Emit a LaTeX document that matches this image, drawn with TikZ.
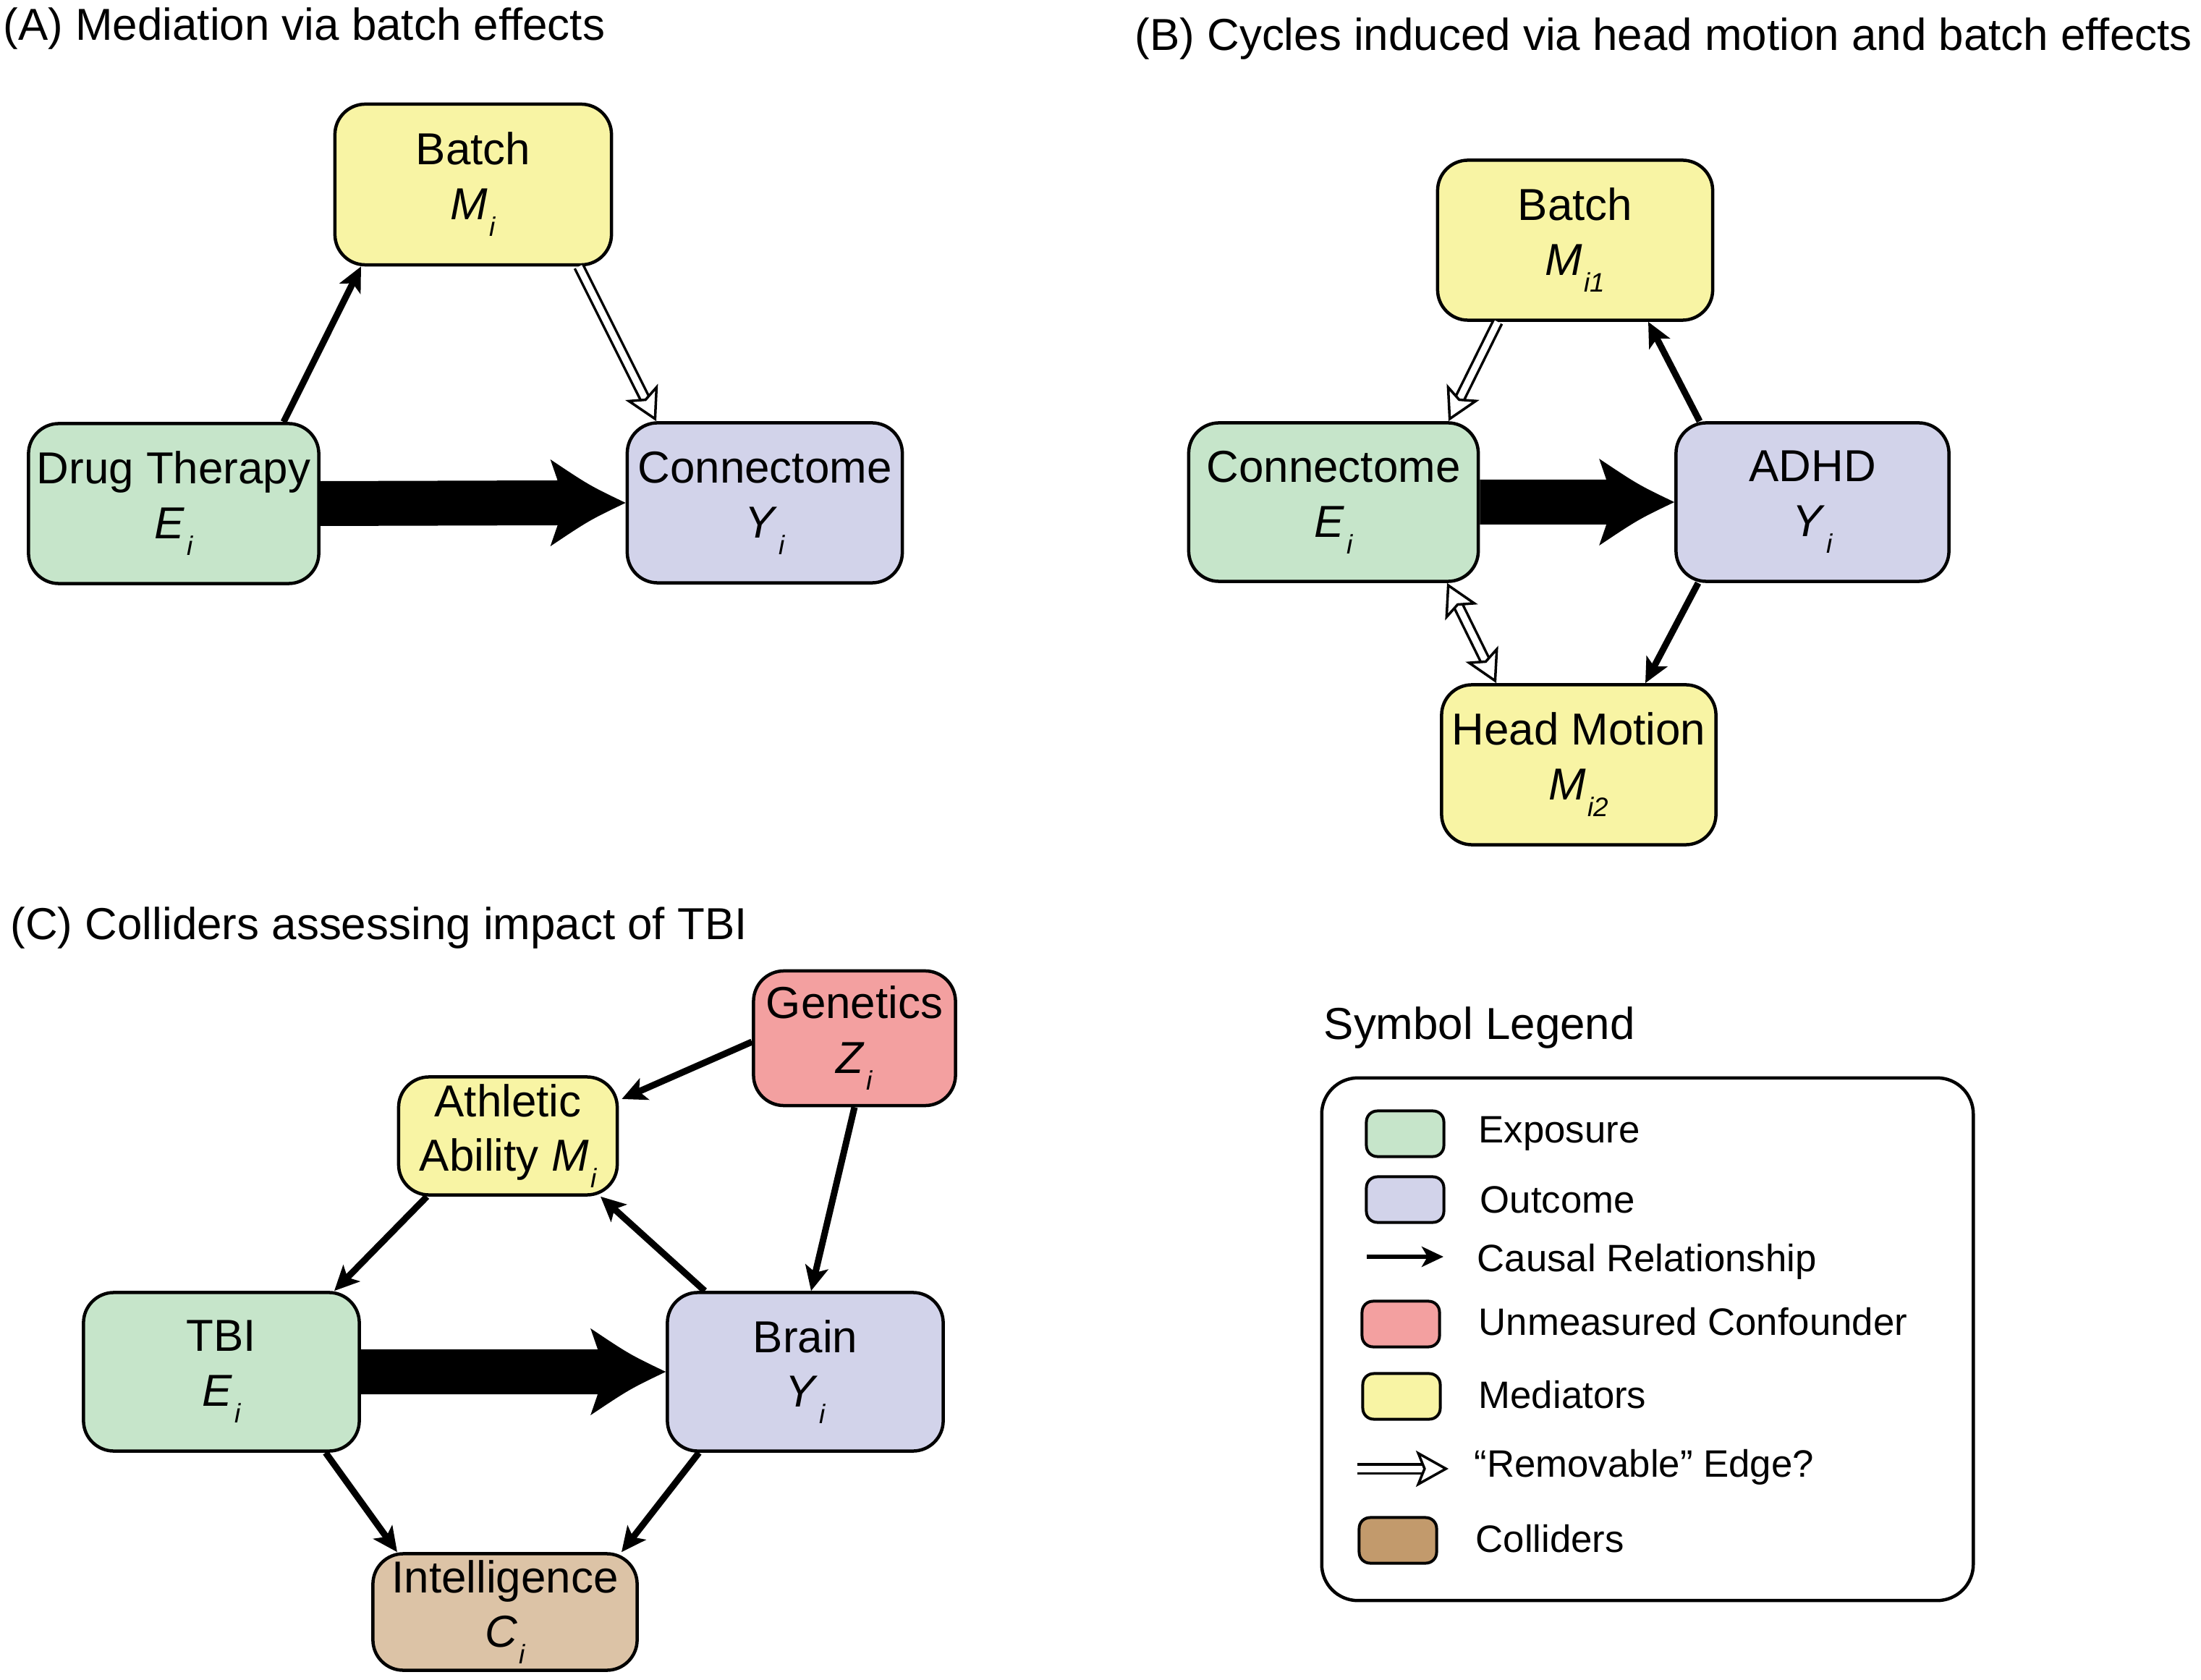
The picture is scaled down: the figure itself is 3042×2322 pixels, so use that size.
\documentclass[tikz,border=0pt]{standalone}
\usepackage{fontspec}
\setmainfont{Liberation Sans}
\usetikzlibrary{arrows.meta,calc}
\definecolor{expo}{RGB}{198,229,202}
\definecolor{outc}{RGB}{210,211,234}
\definecolor{medi}{RGB}{248,244,164}
\definecolor{conf}{RGB}{243,160,160}
\definecolor{coll}{RGB}{194,154,108}
\definecolor{colllight}{RGB}{220,195,166}
\newcommand{\mysub}[1]{\kern0.04em\raisebox{-0.37em}{\fontsize{10.5pt}{10.5pt}\selectfont\itshape #1}}
\newcommand{\myvar}[2]{\textit{#1}\mysub{#2}}
% thick causal arrow from anchor #1 to anchor #2 (horizontal), concave head
\newcommand{\fatarrow}[2]{%
  \fill[black] ($(#1)+(0,-31)$) -- ($(#2)+(-94,-31)$) -- ($(#2)+(-104,-60)$)
    .. controls ($(#2)+(-50,-24)$) .. (#2)
    .. controls ($(#2)+(-50,24)$) .. ($(#2)+(-104,60)$)
    -- ($(#2)+(-94,31)$) -- ($(#1)+(0,31)$) -- cycle;}
\tikzset{
  hollowtip/.tip={Stealth[open, fill=white, length=0.45cm, width=0.5cm, inset=0.1cm, line width=0.035cm]},
  box/.style={draw=black, line width=0.045cm, rounded corners=0.42cm, inner sep=0pt, align=center,
    font=\fontsize{17.6pt}{21.6pt}\selectfont},
  swatch/.style={draw=black, line width=0.04cm, rounded corners=0.15cm, inner sep=0pt,
    minimum width=1.07cm, minimum height=0.63cm},
  causal/.style={line width=0.09cm, -{Stealth[length=0.34cm, width=0.32cm, inset=0.08cm]}},
  legcausal/.style={line width=0.06cm, -{Stealth[length=0.3cm, width=0.28cm, inset=0.08cm]}},
  hollow/.style={double=white, double distance=0.09cm, line width=0.035cm, -hollowtip},
  hollowboth/.style={double=white, double distance=0.09cm, line width=0.035cm, hollowtip-hollowtip},
  title/.style={anchor=base west, inner sep=0pt, font=\fontsize{17.6pt}{21.6pt}\selectfont},
  legtext/.style={anchor=base west, inner sep=0pt, font=\fontsize{15pt}{18pt}\selectfont},
}
\begin{document}
\begin{tikzpicture}[x=0.01cm, y=-0.01cm]
\useasboundingbox (0,0) rectangle (3042,2322);
\fill[white] (0,0) rectangle (3042,2322);

% titles
\node[title] (tA) at (4,56) {(A) Mediation via batch effects};
\node[title] (tB) at (1568,70) {(B) Cycles induced via head motion and batch effects};
\node[title] (tC) at (14,1298) {(C) Colliders assessing impact of TBI};
\node[title] (tL) at (1829,1436) {Symbol Legend};

% Panel A
\node[box, fill=medi, minimum width=3.82cm, minimum height=2.22cm] (BatchA) at (654,255) {Batch\\\myvar{M}{i}};
\node[box, fill=expo, minimum width=4.01cm, minimum height=2.21cm] (DrugA) at (240,696) {Drug Therapy\\\myvar{E}{i}};
\node[box, fill=outc, minimum width=3.80cm, minimum height=2.21cm] (ConnA) at (1057,695) {Connectome\\\myvar{Y}{i}};
\draw[causal] ($(DrugA.north)+(152,0)$) -- ($(BatchA.south)+(-155,0)$);
\draw[hollow] ($(BatchA.south)+(146,0)$) -- ($(ConnA.north)+(-150,0)$);
\fatarrow{DrugA.east}{ConnA.west}

% Panel B
\node[box, fill=medi, minimum width=3.80cm, minimum height=2.21cm] (BatchB) at (2177,332) {Batch\\\myvar{M}{i1}};
\node[box, fill=expo, minimum width=4.00cm, minimum height=2.19cm] (ConnB) at (1843,694) {Connectome\\\myvar{E}{i}};
\node[box, fill=outc, minimum width=3.77cm, minimum height=2.19cm] (ADHD) at (2505,694) {ADHD\\\myvar{Y}{i}};
\node[box, fill=medi, minimum width=3.79cm, minimum height=2.21cm] (HM) at (2182,1057) {Head Motion\\\myvar{M}{i2}};
\draw[causal] ($(ADHD.north)+(-156,0)$) -- ($(BatchB.south)+(101,0)$);
\draw[causal] ($(ADHD.south)+(-158,0)$) -- ($(HM.north)+(92,0)$);
\draw[hollow] ($(BatchB.south)+(-107,0)$) -- ($(ConnB.north)+(159,0)$);
\draw[hollowboth] ($(ConnB.south)+(157,0)$) -- ($(HM.north)+(-114,0)$);
\fatarrow{ConnB.east}{ADHD.west}

% Panel C
\node[box, fill=conf, minimum width=2.79cm, minimum height=1.86cm] (Gen) at (1181,1435) {Genetics\\\myvar{Z}{i}};
\node[box, fill=medi, minimum width=3.02cm, minimum height=1.63cm] (Ath) at (702,1570) {Athletic\\Ability \myvar{M}{i}};
\node[box, fill=expo, minimum width=3.81cm, minimum height=2.19cm] (TBI) at (306,1896) {TBI\\\myvar{E}{i}};
\node[box, fill=outc, minimum width=3.81cm, minimum height=2.19cm] (Brain) at (1113,1896) {Brain\\\myvar{Y}{i}};
\node[box, fill=colllight, minimum width=3.65cm, minimum height=1.61cm] (Int) at (698,2228) {Intelligence\\\myvar{C}{i}};
\draw[causal] ($(Gen.west)+(0,5)$) -- ($(Ath.east)+(4,-51)$);
\draw[causal] (Gen.south) -- ($(Brain.north)+(8,0)$);
\draw[causal] ($(Ath.south)+(-112,0)$) -- ($(TBI.north)+(156,0)$);
\draw[causal] ($(Brain.north)+(-139,0)$) -- ($(Ath.south)+(128,0)$);
\draw[causal] ($(TBI.south)+(144,0)$) -- ($(Int.north)+(-149,0)$);
\draw[causal] ($(Brain.south)+(-147,0)$) -- ($(Int.north)+(161,0)$);
\fatarrow{TBI.east}{Brain.west}

% Legend
\node[draw=black, line width=0.045cm, rounded corners=0.5cm, minimum width=9.0cm, minimum height=7.22cm, inner sep=0pt] (legend) at (2277,1851) {};
\node[swatch, fill=expo] (sw1) at (1942,1567) {};
\node[swatch, fill=outc] (sw2) at (1942,1658) {};
\coordinate (ca1) at (1889,1737);
\coordinate (ca2) at (1995,1737);
\draw[legcausal] (ca1) -- (ca2);
\node[swatch, fill=conf] (sw4) at (1936,1830) {};
\node[swatch, fill=medi] (sw5) at (1937,1930) {};
\coordinate (ra1) at (1876,2030);
\coordinate (ra2) at (2002,2030);
\draw[hollow] (ra1) -- (ra2);
\node[swatch, fill=coll] (sw7) at (1932,2129) {};

\node[legtext] (l1) at (2043,1579) {Exposure};
\node[legtext] (l2) at (2045,1676) {Outcome};
\node[legtext] (l3) at (2041,1757) {Causal Relationship};
\node[legtext] (l4) at (2043,1845) {Unmeasured Confounder};
\node[legtext] (l5) at (2043,1946) {Mediators};
\node[legtext] (l6) at (2037,2041) {“Removable” Edge?};
\node[legtext] (l7) at (2039,2145) {Colliders};
\end{tikzpicture}
\end{document}
